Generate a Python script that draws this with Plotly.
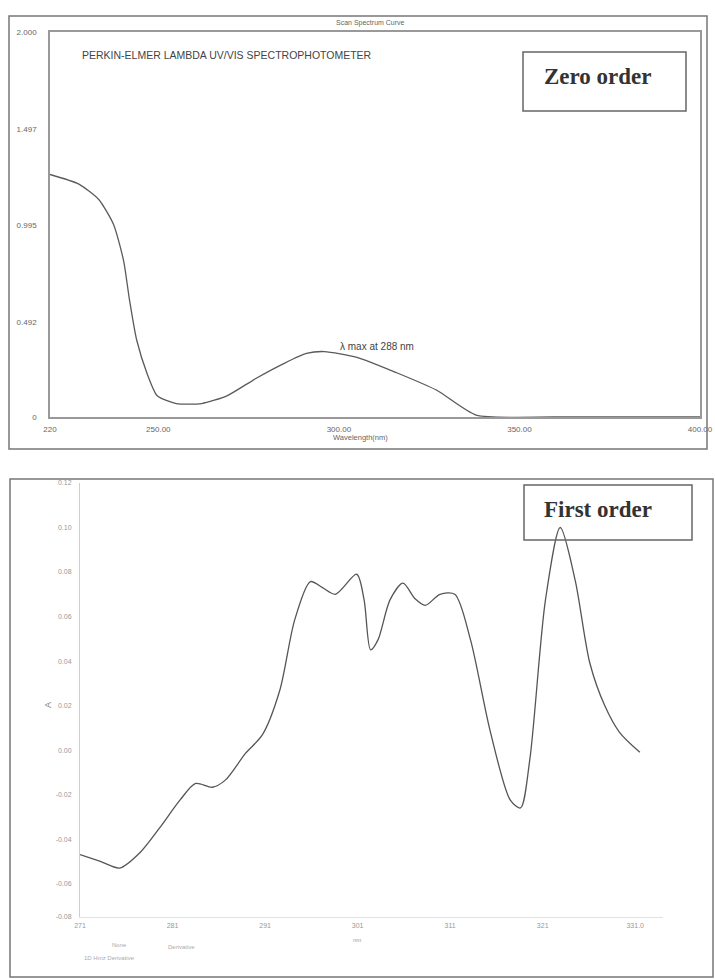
import plotly.graph_objects as go

W, H = 715, 979

# ---------------- data ----------------
zero_wl = [220, 228, 233.5, 237.6, 240.4, 242, 244, 247, 249.7, 255, 262, 269, 277, 285, 291, 296, 305, 316, 327, 338, 360, 400]
zero_abs = [1.26, 1.21, 1.13, 1.0, 0.81, 0.61, 0.40, 0.22, 0.11, 0.07, 0.07, 0.11, 0.20, 0.28, 0.33, 0.34, 0.31, 0.23, 0.14, 0.01, 0.0, 0.0]

zero_yticks = [0, 0.492, 0.995, 1.497, 2.0]
zero_ytext = ["0", "0.492", "0.995", "1.497", "2.000"]
zero_xticks = [220, 250, 300, 350, 400]
zero_xtext = ["220", "250.00", "300.00", "350.00", "400.00"]

first_wl = [271.0, 273.2, 275.3, 277.5, 279.6, 281.8, 283.5, 285.3, 286.7, 288.9, 290.7, 292.6, 294.2, 295.9,
            297.2, 298.6, 300.9, 301.7, 302.4, 303.2, 304.5, 305.9, 307.2, 308.3, 309.9, 311.5, 313.2, 315.3,
            317.5, 318.6, 319.6, 321.3, 322.9, 324.5, 326.1, 327.7, 329.3, 331.5]
first_val = [-0.047, -0.050, -0.053, -0.046, -0.035, -0.0225, -0.015, -0.0167, -0.0135, -0.0014, 0.0068, 0.027,
             0.0585, 0.0757, 0.073, 0.070, 0.079, 0.0675, 0.045, 0.0495, 0.0675, 0.075, 0.068, 0.065, 0.070, 0.070,
             0.0495, 0.009, -0.0225, -0.026, -0.0045, 0.0675, 0.100, 0.0765, 0.0390, 0.0200, 0.0080, -0.001]

first_yticks = [-0.075, -0.06, -0.04, -0.02, 0.0, 0.02, 0.04, 0.06, 0.08, 0.10, 0.12]
first_ytext = ["-0.08", "-0.06", "-0.04", "-0.02", "0.00", "0.02", "0.04", "0.06", "0.08", "0.10", "0.12"]
first_xticks = [271, 281, 291, 301, 311, 321, 331]
first_xtext = ["271", "281", "291", "301", "311", "321", "331.0"]


def px(x):
    return x / W


def py(y):
    return 1 - y / H


fig = go.Figure()

fig.add_trace(go.Scatter(x=zero_wl, y=zero_abs, mode="lines",
                         line=dict(color="#5a5a5a", width=1.3, shape="spline", smoothing=0.6),
                         xaxis="x", yaxis="y", showlegend=False, hoverinfo="skip"))
fig.add_trace(go.Scatter(x=first_wl, y=first_val, mode="lines",
                         line=dict(color="#555555", width=1.3, shape="spline", smoothing=0.8),
                         xaxis="x2", yaxis="y2", showlegend=False, hoverinfo="skip"))

tickfont = dict(family="Liberation Sans, Arial, sans-serif", size=8, color="#666")

fig.update_layout(
    width=W, height=H,
    margin=dict(l=0, r=0, t=0, b=0, autoexpand=False),
    paper_bgcolor="white", plot_bgcolor="white",
    xaxis=dict(domain=[px(50), px(700)], range=[220, 400], anchor="y", automargin=False,
               tickvals=zero_xticks, ticktext=zero_xtext, tickfont=tickfont,
               showgrid=False, zeroline=False, showline=True, linecolor="#999", linewidth=1.5,
               mirror=True, ticks="", ticklabelstandoff=4),
    yaxis=dict(domain=[py(417), py(32)], range=[0, 2.0], anchor="x", automargin=False,
               tickvals=zero_yticks, ticktext=zero_ytext, tickfont=tickfont,
               showgrid=False, zeroline=False, showline=True, linecolor="#999", linewidth=1.5,
               mirror=True, ticks="", ticklabelstandoff=10),
    xaxis2=dict(domain=[px(80), px(663)], range=[271, 334], anchor="y2", automargin=False,
                tickvals=first_xticks, ticktext=first_xtext, tickfont=dict(tickfont, size=7, color="#999"),
                showgrid=False, zeroline=False, showline=True, linecolor="#e2e2e2", linewidth=1,
                ticks="", ticklabelstandoff=2),
    yaxis2=dict(domain=[py(917), py(483)], range=[-0.075, 0.12], anchor="x2", automargin=False,
                tickvals=first_yticks, ticktext=first_ytext, tickfont=dict(tickfont, size=7, color="#999"),
                showgrid=False, zeroline=False, showline=True, linecolor="#cfcfcf", linewidth=1,
                ticks="", ticklabelstandoff=6),
)

shapes = [
    # outer frame of top panel
    dict(type="rect", xref="paper", yref="paper", x0=px(9), x1=px(707), y0=py(449), y1=py(16),
         line=dict(color="#777", width=1.5)),
    # Zero order box
    dict(type="rect", xref="paper", yref="paper", x0=px(523), x1=px(686), y0=py(111), y1=py(52),
         line=dict(color="#666", width=1.5), fillcolor="white"),
    # outer frame of bottom panel
    dict(type="rect", xref="paper", yref="paper", x0=px(10), x1=px(713), y0=py(977), y1=py(479),
         line=dict(color="#777", width=1.5)),
    # First order box
    dict(type="rect", xref="paper", yref="paper", x0=px(524), x1=px(692), y0=py(540), y1=py(485),
         line=dict(color="#666", width=1.5)),
]
fig.update_layout(shapes=shapes)

ann = []


def txt(x, y, s, size=8, color="#555", family="Liberation Sans, Arial, sans-serif", xanchor="center", **kw):
    ann.append(dict(xref="paper", yref="paper", x=px(x), y=py(y), text=s, showarrow=False,
                    font=dict(size=size, color=color, family=family), xanchor=xanchor, yanchor="middle", **kw))


txt(370, 23, "Scan Spectrum Curve", size=7, color="#666")
txt(80, 55, "PERKIN-ELMER LAMBDA UV/VIS SPECTROPHOTOMETER", size=10.5, color="#444", xanchor="left")
txt(598, 76, "<b>Zero order</b>", size=23, color="#333", family="Liberation Serif, Times New Roman, serif")
txt(338, 346, "λ max at 288 nm", size=10, color="#444", xanchor="left")
txt(360, 438, "Wavelength(nm)", size=7.5, color="#666")

txt(598, 510, "<b>First order</b>", size=23, color="#333", family="Liberation Serif, Times New Roman, serif")
txt(48, 705, "A", size=9, color="#888", textangle=-90)
txt(357, 940, "nm", size=6, color="#999")
txt(110, 945, "None", size=6, color="#aaa", xanchor="left")
txt(166, 947, "Derivative", size=6, color="#aaa", xanchor="left")
txt(82, 958, "1D Hmz Derivative", size=6, color="#aaa", xanchor="left")

fig.update_layout(annotations=ann)

fig.write_html("out.html", config={"displayModeBar": False},
               post_script="document.body.style.margin='0px';document.body.style.overflow='hidden';")
